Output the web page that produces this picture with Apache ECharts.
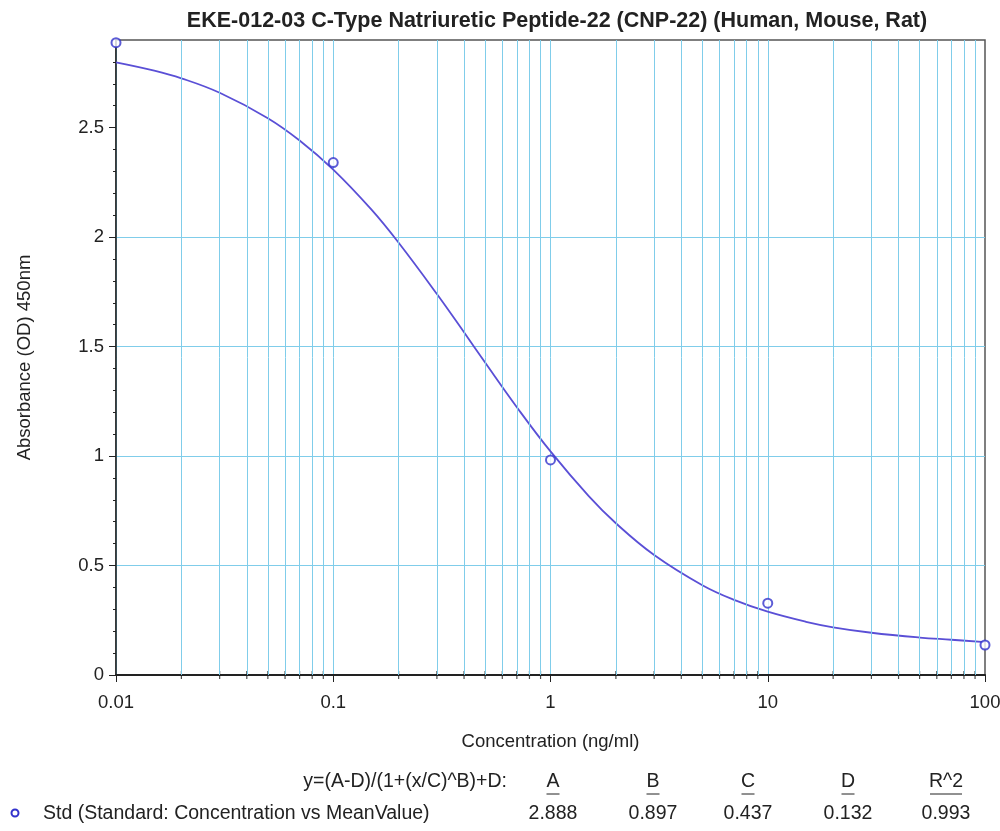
<!DOCTYPE html>
<html><head><meta charset="utf-8">
<script src="https://cdn.jsdelivr.net/npm/echarts@6/dist/echarts.min.js"></script>
<style>html,body{margin:0;padding:0;background:#fff}#c{width:1000px;height:831px}</style>
</head><body><div id="c"></div>
<script>
// Standard points (concentration ng/ml, mean OD)
const stdConc = [0.01, 0.1, 1, 10, 100];
const stdOD = [2.888, 2.340, 0.982, 0.328, 0.137];
// Fitted curve
const curveConc = [0.01,0.015,0.02,0.03,0.05,0.07,0.1,0.15,0.2,0.3,0.4,0.5,0.7,1,1.5,2,3,5,7,10,15,20,30,50,70,100];
const curveOD = [2.798,2.760,2.725,2.659,2.543,2.441,2.308,2.125,1.974,1.740,1.565,1.427,1.223,1.021,0.817,0.693,0.548,0.410,0.343,0.289,0.243,0.218,0.193,0.171,0.161,0.150];
// Minor log positions on the x axis
const minorX = [0.02,0.03,0.04,0.05,0.06,0.07,0.08,0.09,0.2,0.3,0.4,0.5,0.6,0.7,0.8,0.9,2,3,4,5,6,7,8,9,20,30,40,50,60,70,80,90];
// Y tick labels
const yTicks = [0, 0.5, 1, 1.5, 2, 2.5];
// Fit parameters table
const paramNames = ['A','B','C','D','R^2'];
const paramValues = ['2.888','0.897','0.437','0.132','0.993'];
const titleText = 'EKE-012-03 C-Type Natriuretic Peptide-22 (CNP-22) (Human, Mouse, Rat)';
const formulaText = 'y=(A-D)/(1+(x/C)^B)+D:';
const legendText = 'Std (Standard: Concentration vs MeanValue)';

const FONT = 'Liberation Sans, Arial, sans-serif';
const FS = 18.5;
const LFS = 19.5;
const gridBlue = '#80cdea';
const chart = echarts.init(document.getElementById('c'));
const paramX = [553, 653, 748, 848, 946];
const graphics = [
  {type:'text', x:507, y:782, style:{text:formulaText, font:LFS+'px '+FONT, fill:'#222', align:'right', verticalAlign:'middle'}},
  {type:'circle', shape:{cx:15, cy:813, r:3.5}, style:{fill:'none', stroke:'#3333cc', lineWidth:2}},
  {type:'text', x:43, y:814, style:{text:legendText, font:LFS+'px '+FONT, fill:'#222', align:'left', verticalAlign:'middle'}}
];
paramNames.forEach((n,i)=>{
  graphics.push({type:'text', x:paramX[i], y:782, style:{text:n, font:LFS+'px '+FONT, fill:'#222', align:'center', verticalAlign:'middle'}});
  const w = n.length>1 ? 32 : 13;
  graphics.push({type:'line', shape:{x1:paramX[i]-w/2, y1:794, x2:paramX[i]+w/2, y2:794}, style:{stroke:'#222', lineWidth:1}});
  graphics.push({type:'text', x:paramX[i], y:814, style:{text:paramValues[i], font:LFS+'px '+FONT, fill:'#222', align:'center', verticalAlign:'middle'}});
});

chart.setOption({
  animation:false,
  title:{text:titleText, left:552, top:5, textAlign:'center', textStyle:{fontFamily:FONT, fontSize:21.5, fontWeight:'bold', color:'#222'}},
  grid:{left:116, right:15, top:40, bottom:156, show:true, borderColor:'#555', borderWidth:1.5, backgroundColor:'transparent', outerBoundsMode:'none', containLabel:false},
  xAxis:{type:'log', min:0.01, max:100, logBase:10,
    name:'Concentration (ng/ml)', nameLocation:'middle', nameGap:57,
    nameTextStyle:{fontFamily:FONT, fontSize:FS, color:'#222'},
    axisLine:{lineStyle:{color:'#222', width:2}},
    axisTick:{show:true, length:7, lineStyle:{color:'#222'}},
    axisLabel:{fontFamily:FONT, fontSize:FS, color:'#222', margin:18, formatter:v=>String(+v.toPrecision(3))},
    splitLine:{show:true, showMaxLine:false, lineStyle:{color:gridBlue, width:1}}
  },
  yAxis:{type:'value', min:0, max:2.9, interval:0.5,
    name:'Absorbance (OD) 450nm', nameLocation:'middle', nameGap:82,
    nameTextStyle:{fontFamily:FONT, fontSize:FS, color:'#222'},
    axisLine:{show:true, lineStyle:{color:'#222', width:1.5}},
    axisTick:{show:true, length:7, customValues:yTicks, lineStyle:{color:'#222'}},
    minorTick:{show:true, splitNumber:5, length:3, lineStyle:{color:'#222'}},
    axisLabel:{fontFamily:FONT, fontSize:FS, color:'#222', margin:12, customValues:yTicks},
    splitLine:{show:true, showMaxLine:false, lineStyle:{color:gridBlue, width:1}}
  },
  graphic:graphics,
  series:[
    {type:'line', data:curveConc.map((c,i)=>[c,curveOD[i]]), smooth:0.4, showSymbol:false,
     lineStyle:{color:'#5a4fd6', width:1.8}, z:3,
     markLine:{silent:true, symbol:'none', label:{show:false}, animation:false,
       lineStyle:{color:gridBlue, type:'solid', width:1},
       data:minorX.map(v=>({xAxis:v}))}
    },
    {type:'scatter', data:stdConc.map((c,i)=>[c,stdOD[i]]), symbol:'circle', symbolSize:9, clip:false,
     itemStyle:{color:'#ffffff', borderColor:'#3333cc', borderWidth:2}, z:5},
    {type:'scatter', data:minorX.map(v=>[v,0]), symbol:'rect', symbolSize:[1.2,8], silent:true, clip:false,
     itemStyle:{color:'#222'}, z:4}
  ]
});
</script></body></html>
